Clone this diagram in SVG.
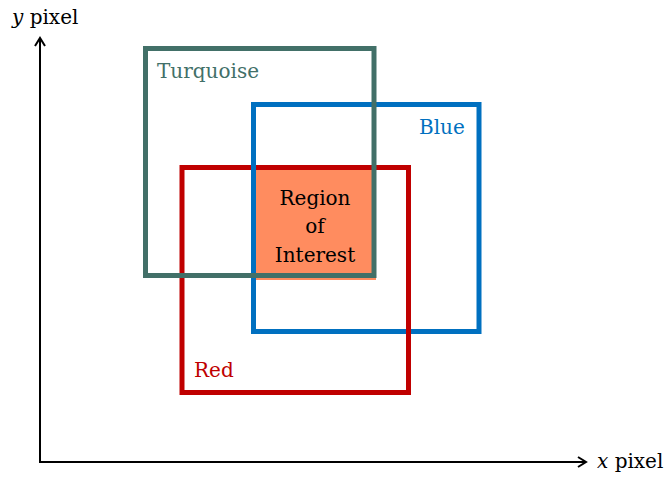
<svg xmlns="http://www.w3.org/2000/svg" width="665" height="479" viewBox="0 0 665 479">
<defs>
<style>
text{font-family:"DejaVu Serif","Liberation Serif",serif;font-size:20px}
.box{fill:none;stroke-width:5}
.ax{fill:none;stroke:#000;stroke-width:2}
</style>
<marker id="ah" viewBox="0 0 12 12" refX="10" refY="6" markerWidth="12" markerHeight="12" markerUnits="userSpaceOnUse" orient="auto">
<path d="M2,1 L10,6 L2,11" fill="none" stroke="#000" stroke-width="2"/>
</marker>
</defs>
<rect width="665" height="479" fill="#fff"/>
<g id="roi">
<rect x="256" y="170" width="120" height="110" fill="#FF8C5F"/>
<text x="315" y="205" text-anchor="middle">Region</text>
<text x="315" y="233" text-anchor="middle">of</text>
<text x="315" y="262" text-anchor="middle">Interest</text>
</g>
<g id="blue">
<rect class="box" x="253.5" y="104.5" width="225.5" height="227" stroke="#0070C0"/>
<text x="419" y="134" fill="#0070C0">Blue</text>
</g>
<g id="red">
<rect class="box" x="182" y="167.5" width="226.5" height="225" stroke="#C00000"/>
<line x1="253.5" y1="164" x2="253.5" y2="171" stroke="#0070C0" stroke-width="5"/>
<text x="194" y="377" fill="#C00000">Red</text>
</g>
<g id="turquoise">
<rect class="box" x="145.5" y="48.5" width="228.5" height="227" stroke="#427068"/>
<text x="157" y="78" fill="#427068">Turquoise</text>
</g>
<g id="axes">
<line class="ax" x1="40" y1="462" x2="40" y2="38" marker-end="url(#ah)"/>
<line class="ax" x1="39" y1="462" x2="586" y2="462" marker-end="url(#ah)"/>
</g>
<g id="labels">
<text x="12" y="24"><tspan font-style="italic">y</tspan> pixel</text>
<text x="597" y="468"><tspan font-style="italic">x</tspan> pixel</text>
</g>
</svg>
